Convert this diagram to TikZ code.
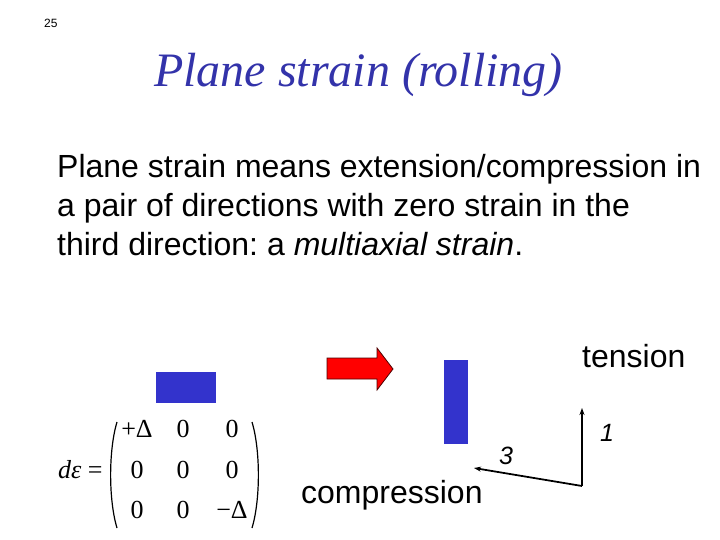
\documentclass[tikz,border=0pt]{standalone}
\usepackage{fontspec}
\setmainfont{Liberation Serif}
\setsansfont{Liberation Sans}
\usetikzlibrary{arrows.meta}
\definecolor{titleblue}{RGB}{51,51,170}
\definecolor{barblue}{RGB}{51,51,204}
\definecolor{arrowred}{RGB}{255,0,0}
\frenchspacing
\begin{document}
\begin{tikzpicture}[x=1pt,y=-1pt,
  txt/.style={inner sep=0pt,anchor=base west},
  body/.style={txt,font=\sffamily\fontsize{32}{38.5}\selectfont},
  mat/.style={inner sep=0pt,anchor=base,font=\fontsize{26}{30}\selectfont},
  axis/.style={line width=1.8pt,-{Stealth[length=7pt,width=5pt]}},
  axlabel/.style={inner sep=0pt,anchor=base,font=\sffamily\itshape\fontsize{25}{28}\selectfont}]
\useasboundingbox (0,0) rectangle (720,540);
\node[txt,font=\sffamily\fontsize{12}{14}\selectfont] (num) at (44,28) {25};
\node[inner sep=0pt,anchor=base,text=titleblue,font=\itshape\fontsize{48}{56}\selectfont] (title) at (358.5,87) {Plane strain (rolling)};
\node[body] (b1) at (57,178) {Plane strain means extension/compression in};
\node[body] (b2) at (57,216.5) {a pair of directions with zero strain in the};
\node[body] (b3) at (57,255) {third direction: a \textit{multiaxial strain}.};
% shapes
\node[draw=none,fill=barblue,minimum width=60pt,minimum height=31pt,inner sep=0pt,anchor=north west] (rect) at (156,372) {};
\node[draw=none,fill=barblue,minimum width=24pt,minimum height=84pt,inner sep=0pt,anchor=north west] (bar) at (444,360) {};
\filldraw[fill=arrowred,draw=black!70!red,line width=0.8pt] (327,358) -- (377,358) -- (377,348) -- (393,369) -- (377,390) -- (377,379) -- (327,379) -- cycle;
% labels
\node[body] (tension) at (582,367) {tension};
\node[body] (compression) at (301,503) {compression};
% axes
\coordinate (o) at (582,486);
\coordinate (ax1) at (582,408);
\coordinate (ax3) at (474,468);
\draw[axis] (o) -- (ax1);
\draw[axis] (o) -- (ax3);
\node[axlabel] (l1) at (607,441) {1};
\node[axlabel] (l3) at (506,464) {3};
% matrix
\node[txt,font=\fontsize{26}{30}\selectfont] (deps) at (58,478) {\textit{dε} =};
\draw[line width=1.2pt] (117,422) .. controls (108.5,450) and (108.5,500) .. (117,528);
\draw[line width=1.2pt] (252,422) .. controls (260.5,450) and (260.5,500) .. (252,528);
\node[mat] (m11) at (137,437) {+Δ};
\node[mat] (m12) at (183,437) {0};
\node[mat] (m13) at (232,437) {0};
\node[mat] (m21) at (137,478) {0};
\node[mat] (m22) at (183,478) {0};
\node[mat] (m23) at (232,478) {0};
\node[mat] (m31) at (137,518) {0};
\node[mat] (m32) at (183,518) {0};
\node[mat] (m33) at (232,518) {−Δ};
\end{tikzpicture}
\end{document}
